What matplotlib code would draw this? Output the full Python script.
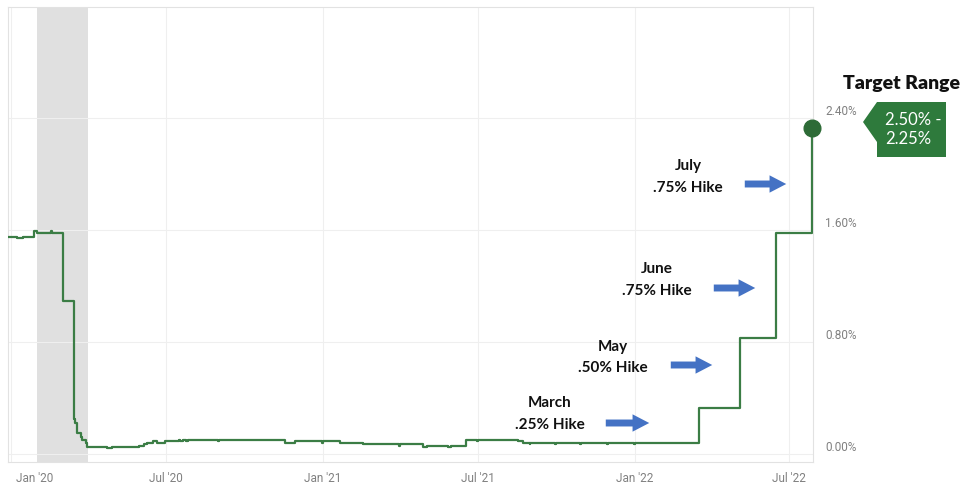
import numpy as np
import matplotlib
matplotlib.use("Agg")
import matplotlib.pyplot as plt
import matplotlib.dates as mdates
from matplotlib.patches import Polygon, FancyArrowPatch
from matplotlib.transforms import ScaledTranslation

# effective fed funds rate, step changes only (date the level starts, %)
rate_dates = [
    "2019-12-27", "2020-01-09", "2020-01-15", "2020-01-29", "2020-02-01",
    "2020-02-17", "2020-02-19", "2020-03-02", "2020-03-15", "2020-03-17",
    "2020-03-19", "2020-03-23", "2020-03-25", "2020-03-29", "2020-03-31",
    "2020-04-23", "2020-04-29", "2020-05-31", "2020-06-05", "2020-06-09",
    "2020-06-16", "2020-06-21", "2020-06-30", "2020-07-16", "2020-07-18",
    "2020-07-21", "2020-07-25", "2020-07-27", "2020-08-31", "2020-09-01",
    "2020-11-18", "2020-11-29", "2020-12-31", "2021-01-01", "2021-01-21",
    "2021-02-17", "2021-03-31", "2021-04-01", "2021-04-28", "2021-05-03",
    "2021-05-27", "2021-05-31", "2021-06-17", "2021-06-30", "2021-07-01",
    "2021-08-17", "2021-08-23", "2021-08-31", "2021-09-01", "2021-09-30",
    "2021-10-01", "2021-10-29", "2021-10-30", "2021-11-30", "2021-12-01",
    "2021-12-31", "2022-01-01", "2022-03-17", "2022-05-05", "2022-06-16",
    "2022-07-28",
]
rate_values = [
    1.55, 1.54, 1.55, 1.59, 1.58,
    1.59, 1.58, 1.09, 0.25, 0.22,
    0.15, 0.12, 0.10, 0.08, 0.05,
    0.04, 0.05, 0.06, 0.07, 0.08,
    0.09, 0.08, 0.09, 0.10, 0.09,
    0.10, 0.09, 0.10, 0.09, 0.10,
    0.08, 0.09, 0.08, 0.09, 0.08,
    0.07, 0.06, 0.07, 0.05, 0.06,
    0.05, 0.06, 0.10, 0.09, 0.10,
    0.09, 0.08, 0.07, 0.08, 0.07,
    0.08, 0.07, 0.08, 0.07, 0.08,
    0.07, 0.08, 0.33, 0.83, 1.58,
    2.33,
]

recession = ("2020-02-01", "2020-04-01")

tick_dates = ["2020-01-01", "2020-07-01", "2021-01-01",
              "2021-07-01", "2022-01-01", "2022-07-01"]
tick_labels = ["Jan '20", "Jul '20", "Jan '21", "Jul '21", "Jan '22", "Jul '22"]
y_ticks = [0.0, 0.8, 1.6, 2.4]

# hike callouts: (month, size text)
hikes = [("March", ".25% Hike"), ("May", ".50% Hike"),
         ("June", ".75% Hike"), ("July", ".75% Hike")]
target_range = ["2.50% -", "2.25%"]

W, H = 980, 487
LINE = "#3b7d45"
DARK = "#2e7a3c"
BLUE = "#4472c4"

fig = plt.figure(figsize=(W / 100, H / 100), dpi=100)
ax = fig.add_axes([8 / W, 1 - 462 / H, 805 / W, 455 / H])


def fx(x):
    return x / W


def fy(y):
    return 1 - y / H


d = mdates.datestr2num(rate_dates)
ax.step(d, rate_values, where="post", color=LINE, lw=1.6, zorder=3)
ax.plot(d[-1], rate_values[-1], "o", ms=12, color="#2d6b36", zorder=4,
        clip_on=False)

ax.axvspan(mdates.datestr2num(recession[0]), mdates.datestr2num(recession[1]),
           color="#e0e0e0", lw=0, zorder=1)

ax.set_xlim(mdates.datestr2num("2019-12-29"), mdates.datestr2num("2022-07-29"))
ax.set_ylim(-0.057, 3.193)

ax.set_xticks(mdates.datestr2num(tick_dates))
ax.set_xticklabels(tick_labels)
ax.set_yticks(y_ticks)
ax.set_yticklabels(["%.2f%%" % v for v in y_ticks])
ax.yaxis.tick_right()
ax.tick_params(axis="both", length=0, labelsize=8.5, labelcolor="#808080")
ax.tick_params(axis="x", pad=7)
ax.tick_params(axis="y", pad=9)
for lbl in ax.get_xticklabels() + ax.get_yticklabels():
    lbl.set_fontfamily("Roboto")
for lbl in ax.get_yticklabels():
    lbl.set_va("bottom")
first = ax.get_xticklabels()[0]
first.set_ha("left")
first.set_transform(first.get_transform() + ScaledTranslation(0.05, 0, fig.dpi_scale_trans))

ax.grid(color="#efefef", lw=0.8, zorder=0)
for s in ax.spines.values():
    s.set_color("#e2e2e2")
    s.set_linewidth(0.8)

# callout text and arrows, positioned in pixels
txt_pos = [(550, 403, 425), (613, 347, 368), (657, 269, 291), (688, 166, 188)]
arr_pos = [(603, 652, 423), (668, 715, 365), (711, 758, 288), (742, 789, 184)]
for (m, h), (tx, ty1, ty2), (a0, a1, ay) in zip(hikes, txt_pos, arr_pos):
    fig.text(fx(tx), fy(ty1), m, ha="center", va="center", fontsize=11,
             fontweight="bold", family="Lato", color="#111111")
    fig.text(fx(tx), fy(ty2), h, ha="center", va="center", fontsize=11,
             fontweight="bold", family="Lato", color="#111111")
    fig.patches.append(FancyArrowPatch(
        (fx(a0), fy(ay)), (fx(a1), fy(ay)), transform=fig.transFigure,
        arrowstyle="simple,head_length=12,head_width=12.5,tail_width=5",
        mutation_scale=1, color=BLUE, lw=0))

fig.text(fx(901), fy(83), "Target Range", ha="center", va="center",
         fontsize=14, fontweight="heavy", family="Lato", color="#111111")
badge = [(877, 102), (946, 102), (946, 157), (877, 157), (877, 142), (863, 122)]
fig.patches.append(Polygon([(fx(x), fy(y)) for x, y in badge], closed=True,
                           transform=fig.transFigure, color=DARK, lw=0))
fig.text(fx(885), fy(120), target_range[0], ha="left", va="center",
         fontsize=12, family="Lato", color="white")
fig.text(fx(885), fy(139), target_range[1], ha="left", va="center",
         fontsize=12, family="Lato", color="white")

fig.savefig("out.png", dpi=100)
